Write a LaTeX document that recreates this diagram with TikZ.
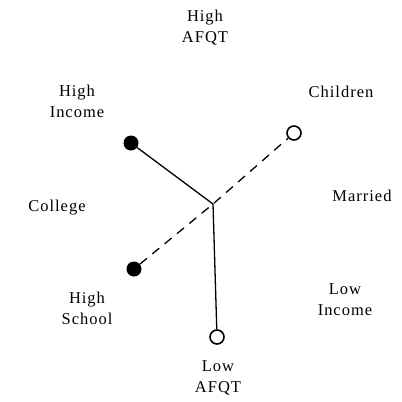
\documentclass[tikz,border=0pt]{standalone}
\usepackage{fontspec}
\setmainfont{Liberation Serif}[LetterSpace=6]
\usepackage{tikz}
\usetikzlibrary{positioning}

\tikzset{
  lbl/.style={font=\fontsize{16.5}{21}\selectfont, align=center, inner sep=0pt},
  fulldot/.style={circle, fill=black, minimum size=15pt, inner sep=0pt},
  opendot/.style={circle, draw=black, fill=white, line width=1.6pt, minimum size=14pt, inner sep=0pt},
  arm/.style={line width=1.3pt},
  dasharm/.style={line width=1.3pt, dash pattern=on 9pt off 7pt}
}

\begin{document}
\begin{tikzpicture}[x=1pt, y=-1pt]

  \useasboundingbox (0,0) rectangle (402,402);

  %% Axis labels round the plot
  \node[lbl] (hiafqt) at (205,28)  {High\\AFQT};
  \node[lbl] (hiincl) at (77,101)  {High\\Income};
  \node[lbl] (childl) at (341,92)  {Children};
  \node[lbl] (colll)  at (57,208)  {College};
  \node[lbl] (marrl)  at (362,196) {Married};
  \node[lbl] (hischl) at (87,308)  {High\\School};
  \node[lbl] (loincl) at (345,300) {Low\\Income};
  \node[lbl] (loafql) at (218,378) {Low\\AFQT};

  %% Centre and end points
  \coordinate (ctr) at (213,204);
  \node[fulldot] (hiinc) at (131,143) {};
  \node[fulldot] (hisch) at (134,269) {};
  \node[opendot] (child) at (294,133) {};
  \node[opendot] (loafq) at (217,337) {};

  %% Arms
  \draw[arm] (hiinc) -- (ctr) -- (loafq);
  \draw[dasharm] (hisch) -- (ctr) -- (child);

\end{tikzpicture}
\end{document}
